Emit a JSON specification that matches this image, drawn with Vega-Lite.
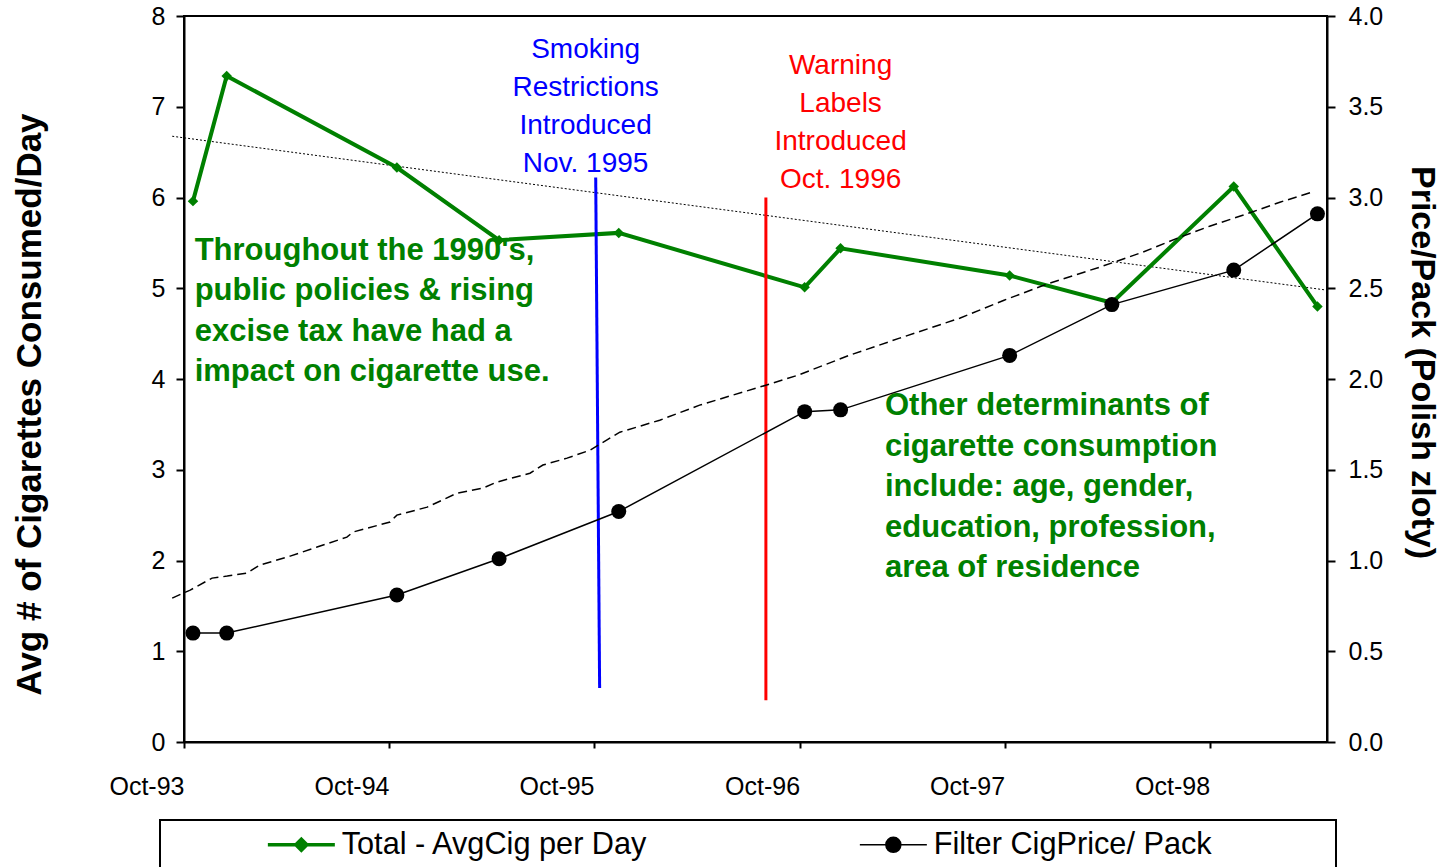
{
  "$schema": "https://vega.github.io/schema/vega-lite/v6.json",
  "width": 1143,
  "height": 726,
  "autosize": "none",
  "padding": {"left": 184, "top": 16, "right": 129, "bottom": 125},
  "background": "white",
  "config": {
    "view": {"stroke": "#000000", "strokeWidth": 2},
    "font": "Liberation Sans",
    "axis": {"grid": false, "domainColor": "#000000", "domainWidth": 2, "tickColor": "#000000", "tickWidth": 2, "labelColor": "#000000", "titleColor": "#000000", "labelFont": "Liberation Sans", "titleFont": "Liberation Sans"}
  },
  "datasets": {
    "survey": [
      {"date": "1993/10/17", "cigs": 5.96, "price": 0.60},
      {"date": "1993/12/16", "cigs": 7.34, "price": 0.60},
      {"date": "1994/10/15", "cigs": 6.33, "price": 0.81},
      {"date": "1995/04/15", "cigs": 5.53, "price": 1.01},
      {"date": "1995/11/14", "cigs": 5.61, "price": 1.27},
      {"date": "1996/10/10", "cigs": 5.01, "price": 1.82},
      {"date": "1996/12/13", "cigs": 5.44, "price": 1.83},
      {"date": "1997/10/10", "cigs": 5.14, "price": 2.13},
      {"date": "1998/04/10", "cigs": 4.84, "price": 2.41},
      {"date": "1998/11/13", "cigs": 6.12, "price": 2.60},
      {"date": "1999/04/11", "cigs": 4.80, "price": 2.91}
    ],
    "trendCigs": [
      {"date": "1993/09/10", "cigs": 6.675},
      {"date": "1999/04/28", "cigs": 4.979}
    ],
    "trendPrice": [
      {"date": "1993/09/10", "price": 0.793},
      {"date": "1993/10/12", "price": 0.837},
      {"date": "1993/11/20", "price": 0.903},
      {"date": "1993/12/17", "price": 0.914},
      {"date": "1994/01/21", "price": 0.931},
      {"date": "1994/02/13", "price": 0.975},
      {"date": "1994/04/08", "price": 1.024},
      {"date": "1994/05/26", "price": 1.074},
      {"date": "1994/07/18", "price": 1.129},
      {"date": "1994/07/29", "price": 1.157},
      {"date": "1994/10/03", "price": 1.212},
      {"date": "1994/10/15", "price": 1.250},
      {"date": "1994/12/08", "price": 1.294},
      {"date": "1995/01/30", "price": 1.371},
      {"date": "1995/03/17", "price": 1.399},
      {"date": "1995/04/11", "price": 1.432},
      {"date": "1995/06/09", "price": 1.481},
      {"date": "1995/07/02", "price": 1.526},
      {"date": "1995/08/14", "price": 1.564},
      {"date": "1995/09/24", "price": 1.608},
      {"date": "1995/11/16", "price": 1.707},
      {"date": "1996/01/26", "price": 1.773},
      {"date": "1996/04/06", "price": 1.856},
      {"date": "1996/08/02", "price": 1.966},
      {"date": "1996/09/28", "price": 2.021},
      {"date": "1996/12/29", "price": 2.131},
      {"date": "1997/03/28", "price": 2.225},
      {"date": "1997/07/13", "price": 2.335},
      {"date": "1997/09/30", "price": 2.434},
      {"date": "1997/12/20", "price": 2.528},
      {"date": "1998/03/19", "price": 2.616},
      {"date": "1998/04/24", "price": 2.654},
      {"date": "1998/06/04", "price": 2.699},
      {"date": "1998/08/09", "price": 2.781},
      {"date": "1998/10/01", "price": 2.842},
      {"date": "1998/11/29", "price": 2.902},
      {"date": "1999/02/03", "price": 2.974},
      {"date": "1999/04/01", "price": 3.029}
    ],
    "events": [
      {"event": "restrictions", "date": "1995/10/04", "cigs": 6.22},
      {"event": "restrictions", "date": "1995/10/11", "cigs": 0.595},
      {"event": "labels", "date": "1996/08/02", "cigs": 6.0},
      {"event": "labels", "date": "1996/08/02", "cigs": 0.46}
    ],
    "notes": [
      {"note": "restrictions", "date": "1995/09/16", "cigs": 7.777, "label": "Smoking\nRestrictions\nIntroduced\nNov. 1995"},
      {"note": "labels", "date": "1996/12/13", "cigs": 7.601, "label": "Warning\nLabels\nIntroduced\nOct. 1996"},
      {"note": "policy", "date": "1993/10/20", "cigs": 5.58, "label": "Throughout the 1990's,\npublic policies & rising\nexcise tax have had a\nimpact on cigarette use."},
      {"note": "determinants", "date": "1997/03/02", "cigs": 3.865, "label": "Other determinants of\ncigarette consumption\ninclude: age, gender,\neducation, profession,\narea of residence"}
    ]
  },
  "encoding": {
    "x": {
      "field": "date", "type": "temporal",
      "scale": {"domain": [{"year": 1993, "month": 10, "date": 1}, {"year": 1999, "month": 4, "date": 28}]},
      "axis": {
        "title": null,
        "values": [
          {"year": 1993, "month": 10, "date": 1},
          {"year": 1994, "month": 10, "date": 1},
          {"year": 1995, "month": 10, "date": 1},
          {"year": 1996, "month": 10, "date": 1},
          {"year": 1997, "month": 10, "date": 1},
          {"year": 1998, "month": 10, "date": 1}
        ],
        "format": "%b-%y",
        "labelAlign": "right",
        "labelBaseline": "top",
        "labelFontSize": 25,
        "labelPadding": 26,
        "labelFlush": false,
        "labelOverlap": false,
        "labelBound": false,
        "tickSize": 6
      }
    }
  },
  "layer": [
    {
      "encoding": {
        "y": {
          "field": "cigs", "type": "quantitative",
          "scale": {"domain": [0, 8], "nice": false, "zero": false},
          "axis": {
            "orient": "left",
            "title": "Avg # of Cigarettes Consumed/Day",
            "titleFontSize": 35,
            "titleFontWeight": "bold",
            "titlePadding": 104,
            "titleY": 388,
            "values": [0, 1, 2, 3, 4, 5, 6, 7, 8],
            "format": "d",
            "labelFontSize": 25,
            "labelPadding": 11,
            "tickSize": 8
          }
        }
      },
      "layer": [
        {
          "data": {"name": "trendCigs"},
          "mark": {"type": "line", "color": "#000000", "strokeWidth": 1, "strokeDash": [2, 2]}
        },
        {
          "data": {"name": "survey"},
          "mark": {"type": "line", "strokeWidth": 4},
          "encoding": {
            "color": {
              "datum": "Total - AvgCig per Day",
              "scale": {"domain": ["Total - AvgCig per Day", "Filter CigPrice/ Pack"], "range": ["#008000", "#000000"]},
              "legend": {
                "orient": "none",
                "legendX": -24,
                "legendY": 804,
                "direction": "horizontal",
                "title": "\u00a0",
                "titleOrient": "left",
                "titleFontSize": 2,
                "titlePadding": 117,
                "padding": 9,
                "strokeColor": "#000000",
                "labelFont": "Liberation Sans",
                "labelFontSize": 30.7,
                "labelColor": "#000000",
                "labelLimit": 1000,
                "labelOffset": 25,
                "symbolSize": 400,
                "columnPadding": 207,
                "labelExpr": "datum.label == 'Filter CigPrice/ Pack' ? datum.label + '\u2800\u2800\u2800\u2800\u2800' : datum.label",
                "encode": {
                  "symbols": {
                    "update": {
                      "shape": {"signal": "datum.value === 'Filter CigPrice/ Pack' ? 'M-3.35,0H3.35M0.75,0A0.75,0.75,0,1,1,-0.75,0A0.75,0.75,0,1,1,0.75,0Z' : 'M-3.35,0H3.35M-0.55,0L0,-0.55L0.55,0L0,0.55Z'"},
                      "fill": {"signal": "datum.value === 'Filter CigPrice/ Pack' ? '#000000' : '#008000'"},
                      "stroke": {"signal": "datum.value === 'Filter CigPrice/ Pack' ? '#000000' : '#008000'"},
                      "strokeWidth": {"signal": "datum.value === 'Filter CigPrice/ Pack' ? 1.5 : 3.5"},
                      "opacity": {"value": 1},
                      "fillOpacity": {"value": 1}
                    }
                  },
                  "legend": {"update": {"strokeWidth": {"value": 2}}}
                }
              }
            }
          }
        },
        {
          "data": {"name": "survey"},
          "mark": {"type": "point", "shape": "diamond", "filled": true, "size": 110, "color": "#008000", "opacity": 1}
        },
        {
          "data": {"name": "events"},
          "transform": [{"filter": "datum.event === 'restrictions'"}],
          "mark": {"type": "line", "color": "#0000FF", "strokeWidth": 3},
          "encoding": {"order": {"field": "cigs", "type": "quantitative"}}
        },
        {
          "data": {"name": "events"},
          "transform": [{"filter": "datum.event === 'labels'"}],
          "mark": {"type": "line", "color": "#FF0000", "strokeWidth": 3},
          "encoding": {"order": {"field": "cigs", "type": "quantitative"}}
        },
        {
          "data": {"name": "notes"},
          "transform": [{"filter": "datum.note === 'restrictions'"}],
          "mark": {"type": "text", "color": "#0000FF", "font": "Liberation Sans", "fontSize": 28, "align": "center", "baseline": "top", "lineBreak": "\n", "lineHeight": 38},
          "encoding": {"text": {"field": "label"}}
        },
        {
          "data": {"name": "notes"},
          "transform": [{"filter": "datum.note === 'labels'"}],
          "mark": {"type": "text", "color": "#FF0000", "font": "Liberation Sans", "fontSize": 28, "align": "center", "baseline": "top", "lineBreak": "\n", "lineHeight": 38},
          "encoding": {"text": {"field": "label"}}
        },
        {
          "data": {"name": "notes"},
          "transform": [{"filter": "datum.note === 'policy' || datum.note === 'determinants'"}],
          "mark": {"type": "text", "color": "#008000", "font": "Liberation Sans", "fontSize": 31, "fontWeight": "bold", "align": "left", "baseline": "top", "lineBreak": "\n", "lineHeight": 40.5},
          "encoding": {"text": {"field": "label"}}
        }
      ]
    },
    {
      "encoding": {
        "y": {
          "field": "price", "type": "quantitative",
          "scale": {"domain": [0, 4], "nice": false, "zero": false},
          "axis": {
            "orient": "right",
            "title": "Price/Pack (Polish zloty)",
            "titleFontSize": 34,
            "titleFontWeight": "bold",
            "titlePadding": 22,
            "titleY": 346,
            "values": [0, 0.5, 1, 1.5, 2, 2.5, 3, 3.5, 4],
            "format": ".1f",
            "labelFontSize": 25,
            "labelPadding": 13,
            "tickSize": 8
          }
        }
      },
      "layer": [
        {
          "data": {"name": "trendPrice"},
          "mark": {"type": "line", "color": "#000000", "strokeWidth": 1.5, "strokeDash": [9, 5]}
        },
        {
          "data": {"name": "survey"},
          "mark": {"type": "line", "strokeWidth": 1.5},
          "encoding": {"color": {"datum": "Filter CigPrice/ Pack"}}
        },
        {
          "data": {"name": "survey"},
          "mark": {"type": "point", "shape": "circle", "filled": true, "size": 225, "color": "#000000", "opacity": 1}
        }
      ]
    }
  ],
  "resolve": {"scale": {"y": "independent"}}
}
